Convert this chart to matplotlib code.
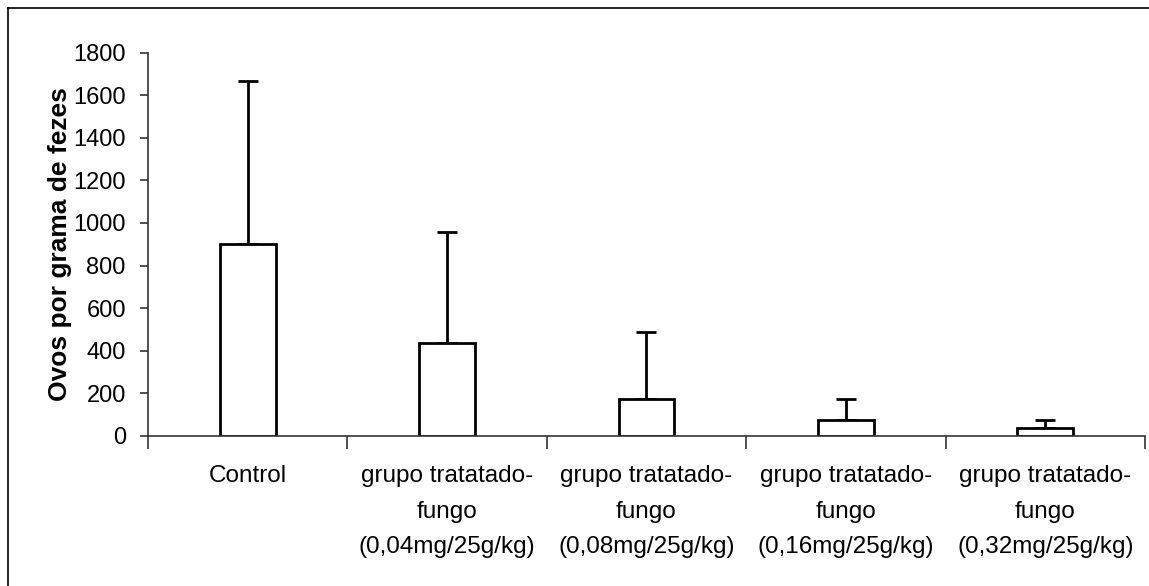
import numpy as np
import matplotlib
matplotlib.use("Agg")
from matplotlib import pyplot as plt
from matplotlib.lines import Line2D

# mean and upper error (std)
groups = ['Control',
          'grupo tratatado-\nfungo\n(0,04mg/25g/kg)',
          'grupo tratatado-\nfungo\n(0,08mg/25g/kg)',
          'grupo tratatado-\nfungo\n(0,16mg/25g/kg)',
          'grupo tratatado-\nfungo\n(0,32mg/25g/kg)']
means = [900, 436, 172, 75, 36]
tops = [1665, 956, 486, 174, 75]
errors = [t - m for t, m in zip(tops, means)]
yticks = [0, 200, 400, 600, 800, 1000, 1200, 1400, 1600, 1800]

plt.rcParams['font.family'] = ['Liberation Sans', 'DejaVu Sans']

fig = plt.figure(figsize=(11.49, 5.86), dpi=100)
ax = fig.add_axes([0.1288, 0.256, 0.8677, 0.6544])

xs = np.arange(len(groups))
ax.bar(xs, means, width=0.28, color='white', edgecolor='black', linewidth=2, zorder=2)
ax.errorbar(xs, means, yerr=[np.zeros(len(errors)), errors], fmt='none',
            ecolor='black', elinewidth=2, capsize=7, capthick=2, zorder=1)

ax.set_xlim(-0.5, len(groups) - 0.5)
ax.set_ylim(0, 1800)
ax.set_yticks(yticks)
ax.set_yticklabels([str(v) for v in yticks], fontsize=17)

# ticks between categories, labels centred under the bars
ax.set_xticks(np.arange(len(groups) + 1) - 0.5)
ax.set_xticklabels([])
ax.set_xticks(xs, minor=True)
ax.set_xticklabels(groups, minor=True, fontsize=17.5, linespacing=1.8)
ax.tick_params(axis='x', which='major', length=9, width=1.2, color='#333333')
ax.tick_params(axis='x', which='minor', length=0, pad=21)
ax.tick_params(axis='y', length=6, width=1.2, color='#333333', pad=10)

for side in ['top', 'right']:
    ax.spines[side].set_visible(False)
for side in ['left', 'bottom']:
    ax.spines[side].set_linewidth(1.2)
    ax.spines[side].set_color('#333333')

ax.set_ylabel('Ovos por grama de fezes', fontsize=19, fontweight='bold', labelpad=1)

# frame of the chart area (only left and top edges fall inside the image)
fig.add_artist(Line2D([7.5 / 1149, 7.5 / 1149], [0, 1 - 7.5 / 586], color='black', lw=1.2))
fig.add_artist(Line2D([7.5 / 1149, 1], [1 - 7.5 / 586, 1 - 7.5 / 586], color='black', lw=1.2))

fig.savefig('out.png', dpi=100)
